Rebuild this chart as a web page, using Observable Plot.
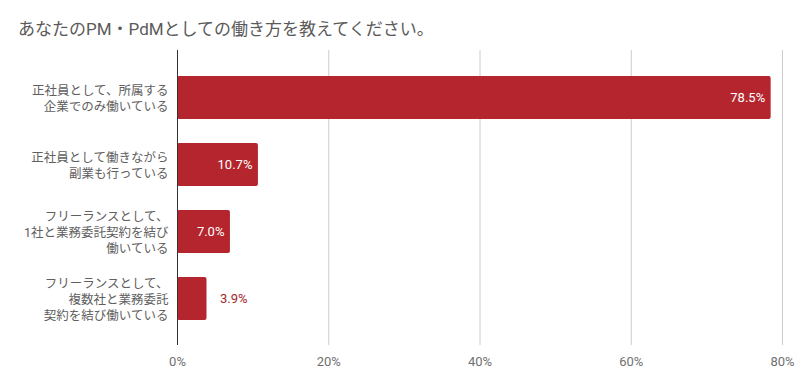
<!DOCTYPE html>
<html><head><meta charset="utf-8">
<script src="https://cdn.jsdelivr.net/npm/d3@7"></script>
<script src="https://cdn.jsdelivr.net/npm/@observablehq/plot@0.6"></script>
<style>
body{margin:0;background:#fff;font-family:Roboto,"Noto Sans CJK JP",sans-serif;}
#title{height:50px;box-sizing:border-box;padding:19px 0 0 18px;font-size:17px;color:#5a5a5a;line-height:20px;}
</style></head><body>
<div id="title">あなたのPM・PdMとしての働き方を教えてください。</div>
<div id="chart"></div>
<script>
const categories = [
  "正社員として、所属する\n企業でのみ働いている",
  "正社員として働きながら\n副業も行っている",
  "フリーランスとして、\n1社と業務委託契約を結び\n働いている",
  "フリーランスとして、\n複数社と業務委託\n契約を結び働いている"
];
const values = [78.5, 10.7, 7.0, 3.9];
const xTicks = [0, 20, 40, 60, 80];

const data = categories.map((c, i) => ({cat: c, v: values[i]}));
const barColor = "#b5252d";

const chart = Plot.plot({
  width: 800,
  height: 335,
  marginTop: 0,
  marginBottom: 40,
  marginLeft: 177,
  marginRight: 18,
  style: {fontFamily: 'Roboto,"Noto Sans CJK JP",sans-serif', fontSize: "12px", color: "#555"},
  x: {domain: [0, 80], ticks: xTicks, tickFormat: d => d + "%", label: null},
  y: {domain: categories, padding: 0.36, label: null},
  marks: [
    Plot.gridX(xTicks, {stroke: "#ccc", strokeOpacity: 1}),
    Plot.axisX({ticks: xTicks, tickFormat: d => d + "%", tickSize: 0, tickPadding: 11, fontSize: 13, fill: "#707070", label: null}),
    Plot.axisY({tickSize: 0, tickPadding: 9, fontSize: 12.5, fill: "#606060", lineHeight: 1.3, label: null}),
    Plot.barX(data, {x: "v", y: "cat", fill: barColor, rx: 2}),
    Plot.ruleX([0], {stroke: "#333", strokeWidth: 1}),
    Plot.text(data.filter(d => d.v >= 5), {x: "v", y: "cat", text: d => d.v.toFixed(1) + "%", textAnchor: "end", dx: -6, fill: "#fff", fontSize: 13}),
    Plot.text(data.filter(d => d.v < 5), {x: "v", y: "cat", text: d => d.v.toFixed(1) + "%", textAnchor: "start", dx: 13, fill: "#a3262c", fontSize: 13})
  ]
});
document.getElementById("chart").appendChild(chart);
</script>
</body></html>
